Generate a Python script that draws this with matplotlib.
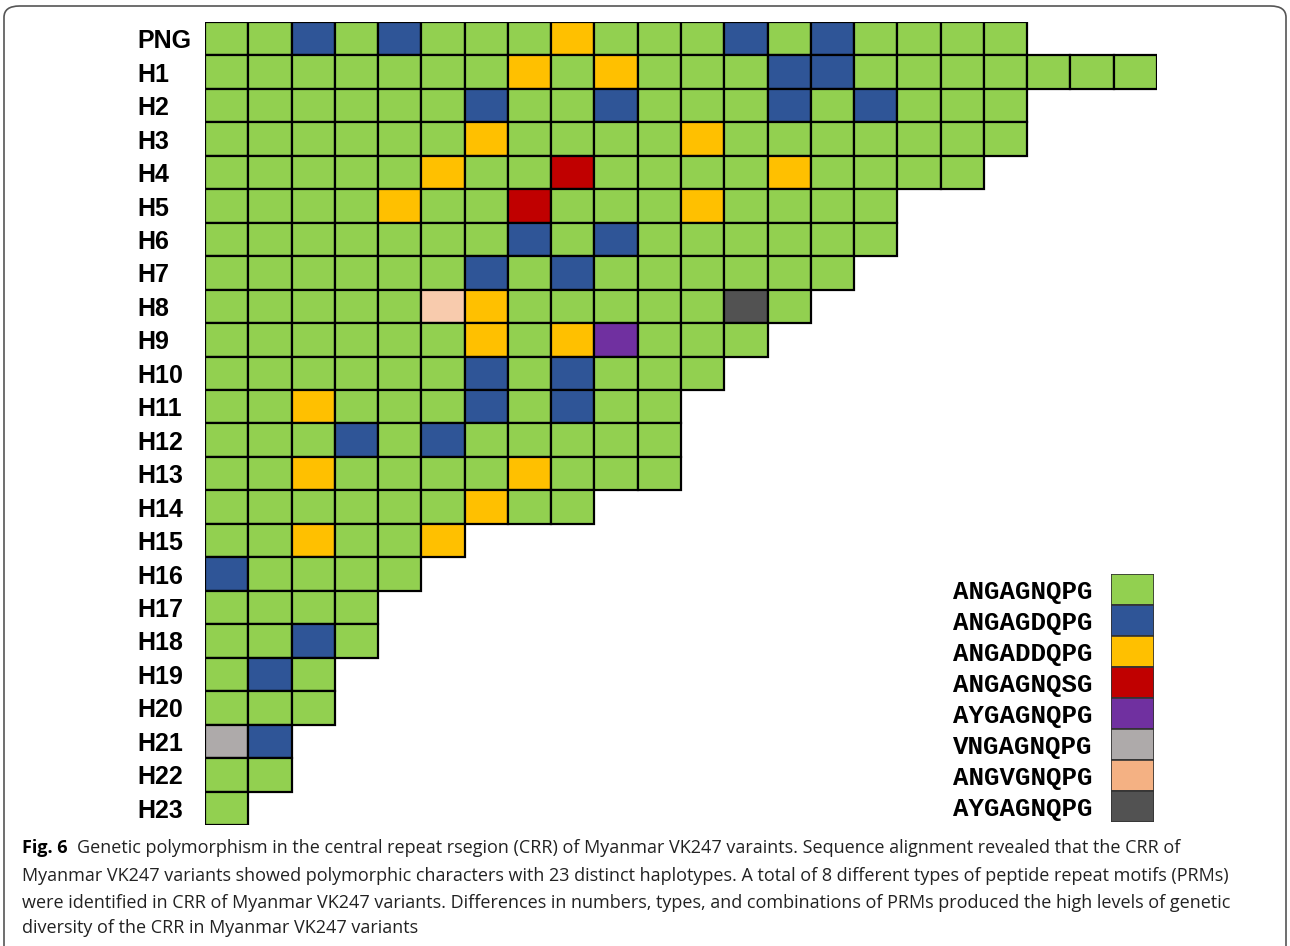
import matplotlib
matplotlib.use("Agg")
import matplotlib.pyplot as plt
from matplotlib.patches import Rectangle, FancyBboxPatch

# Peptide repeat motif (PRM) types, index = code used in the haplotype rows
motifs = ["ANGAGNQPG", "ANGAGDQPG", "ANGADDQPG", "ANGAGNQSG",
          "AYGAGNQPG", "VNGAGNQPG", "ANGVGNQPG", "AYGAGNQPG"]
cell_colors = ["#92D050", "#2F5597", "#FFC000", "#C00000",
               "#7030A0", "#AEAAAA", "#F8CBAD", "#525252"]
legend_colors = ["#92D050", "#2F5597", "#FFC000", "#C00000",
                 "#7030A0", "#AEAAAA", "#F4B183", "#525252"]

# Haplotype names (rows, top to bottom)
haplotypes = ["PNG", "H1", "H2", "H3", "H4", "H5", "H6", "H7", "H8", "H9",
              "H10", "H11", "H12", "H13", "H14", "H15", "H16", "H17", "H18",
              "H19", "H20", "H21", "H22", "H23"]

# PRM sequence of each haplotype in the CRR
PNG = [0, 0, 1, 0, 1, 0, 0, 0, 2, 0, 0, 0, 1, 0, 1, 0, 0, 0, 0]
H1 = [0, 0, 0, 0, 0, 0, 0, 2, 0, 2, 0, 0, 0, 1, 1, 0, 0, 0, 0, 0, 0, 0]
H2 = [0, 0, 0, 0, 0, 0, 1, 0, 0, 1, 0, 0, 0, 1, 0, 1, 0, 0, 0]
H3 = [0, 0, 0, 0, 0, 0, 2, 0, 0, 0, 0, 2, 0, 0, 0, 0, 0, 0, 0]
H4 = [0, 0, 0, 0, 0, 2, 0, 0, 3, 0, 0, 0, 0, 2, 0, 0, 0, 0]
H5 = [0, 0, 0, 0, 2, 0, 0, 3, 0, 0, 0, 2, 0, 0, 0, 0]
H6 = [0, 0, 0, 0, 0, 0, 0, 1, 0, 1, 0, 0, 0, 0, 0, 0]
H7 = [0, 0, 0, 0, 0, 0, 1, 0, 1, 0, 0, 0, 0, 0, 0]
H8 = [0, 0, 0, 0, 0, 6, 2, 0, 0, 0, 0, 0, 7, 0]
H9 = [0, 0, 0, 0, 0, 0, 2, 0, 2, 4, 0, 0, 0]
H10 = [0, 0, 0, 0, 0, 0, 1, 0, 1, 0, 0, 0]
H11 = [0, 0, 2, 0, 0, 0, 1, 0, 1, 0, 0]
H12 = [0, 0, 0, 1, 0, 1, 0, 0, 0, 0, 0]
H13 = [0, 0, 2, 0, 0, 0, 0, 2, 0, 0, 0]
H14 = [0, 0, 0, 0, 0, 0, 2, 0, 0]
H15 = [0, 0, 2, 0, 0, 2]
H16 = [1, 0, 0, 0, 0]
H17 = [0, 0, 0, 0]
H18 = [0, 0, 1, 0]
H19 = [0, 1, 0]
H20 = [0, 0, 0]
H21 = [5, 1]
H22 = [0, 0]
H23 = [0]

sequences = [PNG, H1, H2, H3, H4, H5, H6, H7, H8, H9, H10, H11, H12,
             H13, H14, H15, H16, H17, H18, H19, H20, H21, H22, H23]

W, H = 1290, 946
fig = plt.figure(figsize=(W / 100, H / 100), dpi=100)
fig.patch.set_facecolor("white")

# Rounded frame around the figure panel (open at the bottom)
frame = FancyBboxPatch((4 / W, -0.05), 1282 / W, 1 - 6 / H + 0.05,
                       boxstyle="round,pad=0,rounding_size=0.012",
                       transform=fig.transFigure, facecolor="none",
                       edgecolor="#555555", linewidth=1.2, zorder=0)
fig.patches.append(frame)

# Haplotype grid
ncols = max(len(s) for s in sequences)
nrows = len(sequences)
ax = fig.add_axes([205 / W, 1 - 825 / H, 952 / W, 803 / H])
for r, seq in enumerate(sequences):
    for c, code in enumerate(seq):
        ax.add_patch(Rectangle((c, r), 1, 1, facecolor=cell_colors[code],
                               edgecolor="black", linewidth=1.6))
ax.set_xlim(0, ncols)
ax.set_ylim(nrows, 0)
ax.set_yticks([r + 0.5 for r in range(nrows)])
ax.set_yticklabels(haplotypes, fontsize=18, fontweight="bold",
                   family="Liberation Sans", ha="left")
ax.tick_params(axis="y", length=0, pad=49)
ax.set_xticks([])
for s in ax.spines.values():
    s.set_visible(False)
ax.patch.set_alpha(0)

# Legend of PRM types
lax = fig.add_axes([1111 / W, 1 - 822 / H, 43 / W, 248 / H])
for i, col in enumerate(legend_colors):
    lax.add_patch(Rectangle((0, i), 1, 1, facecolor=col,
                            edgecolor="#333333", linewidth=1.2))
lax.set_xlim(0, 1)
lax.set_ylim(len(motifs), 0)
lax.set_yticks([i + 0.5 for i in range(len(motifs))])
lax.set_yticklabels(motifs, fontsize=18.5, fontweight="bold",
                    family="Liberation Mono")
lax.tick_params(axis="y", length=0, pad=13)
lax.set_xticks([])
for s in lax.spines.values():
    s.set_visible(False)
lax.patch.set_alpha(0)

# Caption
cap_font = "Open Sans"
cap_size = 13
x0 = 22 / W
lines_y = [848, 876, 903, 928]
lead = fig.text(x0, 1 - lines_y[0] / H, "Fig. 6", fontsize=cap_size,
                fontweight="bold", family=cap_font, va="center")
fig.canvas.draw()
bb = lead.get_window_extent()
rest = ["Genetic polymorphism in the central repeat rsegion (CRR) of Myanmar VK247 varaints. "
        "Sequence alignment revealed that the CRR of",
        "Myanmar VK247 variants showed polymorphic characters with 23 distinct haplotypes. "
        "A total of 8 different types of peptide repeat motifs (PRMs)",
        "were identified in CRR of Myanmar VK247 variants. Differences in numbers, types, "
        "and combinations of PRMs produced the high levels of genetic",
        "diversity of the CRR in Myanmar VK247 variants"]
fig.text((bb.x1 + 9) / W, 1 - lines_y[0] / H, rest[0], fontsize=cap_size,
         family=cap_font, va="center", color="#222222")
for y, t in zip(lines_y[1:], rest[1:]):
    fig.text(x0, 1 - y / H, t, fontsize=cap_size, family=cap_font,
             va="center", color="#222222")

fig.savefig("out.png", dpi=100)
